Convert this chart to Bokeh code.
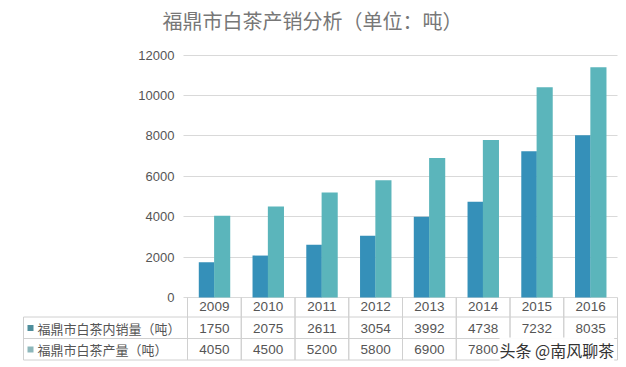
from bokeh.plotting import figure
from bokeh.models import (ColumnDataSource, Range1d, FixedTicker, Label,
                          LinearAxis, Grid)
from bokeh.transform import dodge
from bokeh.embed import file_html
from bokeh.resources import INLINE
from bokeh.core.properties import value

# ---- data ----
years = ["2009", "2010", "2011", "2012", "2013", "2014", "2015", "2016"]
sales = [1750, 2075, 2611, 3054, 3992, 4738, 7232, 8035]
production = [4050, 4500, 5200, 5800, 6900, 7800, 10400, 11400]
sales_name = "福鼎市白茶内销量（吨）"
prod_name = "福鼎市白茶产量（吨）"
title_text = "福鼎市白茶产销分析（单位：吨）"
watermark = "头条 @南风聊茶"
y_ticks = [0, 2000, 4000, 6000, 8000, 10000, 12000]

# ---- layout helpers (canvas pixel -> data units) ----
W, H = 620, 362
FL = 187.0           # left edge of the first year column, px
CW = 53.75           # width of one year column, px
Y0 = 297.0           # canvas y of value 0
PPU = 242.5 / 12000  # px per unit


def sx(px):
    return (px - FL) / CW


def sy(py):
    return (Y0 - py) / PPU


C_SALES = "#3590b9"
C_PROD = "#5bb5bb"
GRID = "#d9d9d9"
TBL = "#d0d0d0"
TXT = "#555555"
FONT = "Noto Sans CJK SC"
NUMF = "Liberation Sans"

p = figure(width=W, height=H, output_backend="svg", toolbar_location=None,
           x_range=Range1d(sx(0), sx(W)), y_range=Range1d(sy(H), sy(0)),
           x_axis_location=None, y_axis_location=None,
           min_border=0, min_border_left=0, min_border_right=0,
           min_border_top=0, min_border_bottom=0)
p.center = []            # drop the default grids
p.outline_line_color = None
p.background_fill_color = "white"
p.border_fill_color = "white"

n = len(years)
xc = [i + 0.5 for i in range(n)]   # centres of the year columns

# y axis drawn at the left edge of the year columns
yax = LinearAxis(ticker=FixedTicker(ticks=y_ticks), fixed_location=0)
yax.axis_line_color = None
yax.major_tick_line_color = None
yax.minor_tick_line_color = None
yax.major_tick_out = 0
yax.major_tick_in = 0
yax.major_label_standoff = 13
yax.major_label_text_font = NUMF
yax.major_label_text_font_size = "13px"
yax.major_label_text_color = TXT
p.add_layout(yax, "left")

# horizontal grid lines, only across the chart area
if "cross_bounds" in Grid.properties():
    g = Grid(dimension=1, ticker=FixedTicker(ticks=y_ticks),
             grid_line_color=GRID, cross_bounds=(sx(183), n))
    p.add_layout(g, "center")
else:
    p.segment(x0=[sx(183)] * len(y_ticks), y0=y_ticks,
              x1=[n] * len(y_ticks), y1=y_ticks, line_color=GRID)

src = ColumnDataSource(dict(x=xc, year=years, sales=sales, prod=production,
                            sales_lbl=[str(v) for v in sales]))

p.vbar(x=dodge("x", -0.145), top="sales", width=0.29, source=src,
       fill_color=C_SALES, line_color=None)
p.vbar(x=dodge("x", 0.145), top="prod", width=0.30, source=src,
       fill_color=C_PROD, line_color=None)

# ---- data table below the chart ----
y_hdr_bot = sy(316.5)
y_r1_bot = sy(338)
y_r2_bot = sy(359.5)
x_left = sx(23)

# vertical dividers of the year columns
p.segment(x0=dodge("x", -0.5), y0=0, x1=dodge("x", -0.5), y1=y_r2_bot,
          source=src, line_color=TBL)
p.segment(x0=dodge("x", 0.5), y0=0, x1=dodge("x", 0.5), y1=y_r2_bot,
          source=src, line_color=TBL)
# left border of the label column
p.segment(x0=[x_left], y0=[y_hdr_bot], x1=[x_left], y1=[y_r2_bot], line_color=TBL)
# horizontal lines
for yy in (y_hdr_bot, y_r1_bot, y_r2_bot):
    p.segment(x0=[x_left], y0=[yy], x1=[n], y1=[yy], line_color=TBL)

# header (years)
p.text(x="x", y=sy(305.5), text="year", source=src,
       text_align="center", text_baseline="middle",
       text_font=value(NUMF), text_font_size="13.5px", text_color=TXT)
# row 1 values
p.text(x="x", y=sy(327.5), text="sales_lbl", source=src,
       text_align="center", text_baseline="middle",
       text_font=value(NUMF), text_font_size="13.5px", text_color=TXT)
# row 2 values (the cells hidden by the watermark are left out)
vis = list(range(6))
src2 = ColumnDataSource(dict(x=[xc[i] for i in vis],
                             lbl=[str(production[i]) for i in vis]))
p.text(x="x", y=sy(349), text="lbl", source=src2,
       text_align="center", text_baseline="middle",
       text_font=value(NUMF), text_font_size="13.5px", text_color=TXT)

# legend keys + row labels
p.quad(left=[sx(27)], right=[sx(33)], top=[sy(324.5)], bottom=[sy(330.5)],
       fill_color="#4f8e9c", line_color=None)
p.quad(left=[sx(27)], right=[sx(33)], top=[sy(346)], bottom=[sy(352)],
       fill_color="#8db7bb", line_color=None)
p.text(x=[sx(37)], y=[sy(327.5)], text=[sales_name], text_align="left",
       text_baseline="middle", text_font=value(FONT), text_font_size="13px",
       text_color=TXT)
p.text(x=[sx(37)], y=[sy(349)], text=[prod_name], text_align="left",
       text_baseline="middle", text_font=value(FONT), text_font_size="13px",
       text_color=TXT)

# title
p.text(x=[sx(312)], y=[sy(20)], text=[title_text], text_align="center",
       text_baseline="middle", text_font=value(FONT), text_font_size="20px",
       text_color="#777777")

# watermark
p.add_layout(Label(x=sx(499), y=sy(349), text=watermark, text_align="left",
                   text_baseline="middle", text_font=FONT, text_font_size="16px",
                   text_color="#333333", background_fill_color="white",
                   background_fill_alpha=0.95))

open("out.html", "w").write(file_html(p, INLINE))
